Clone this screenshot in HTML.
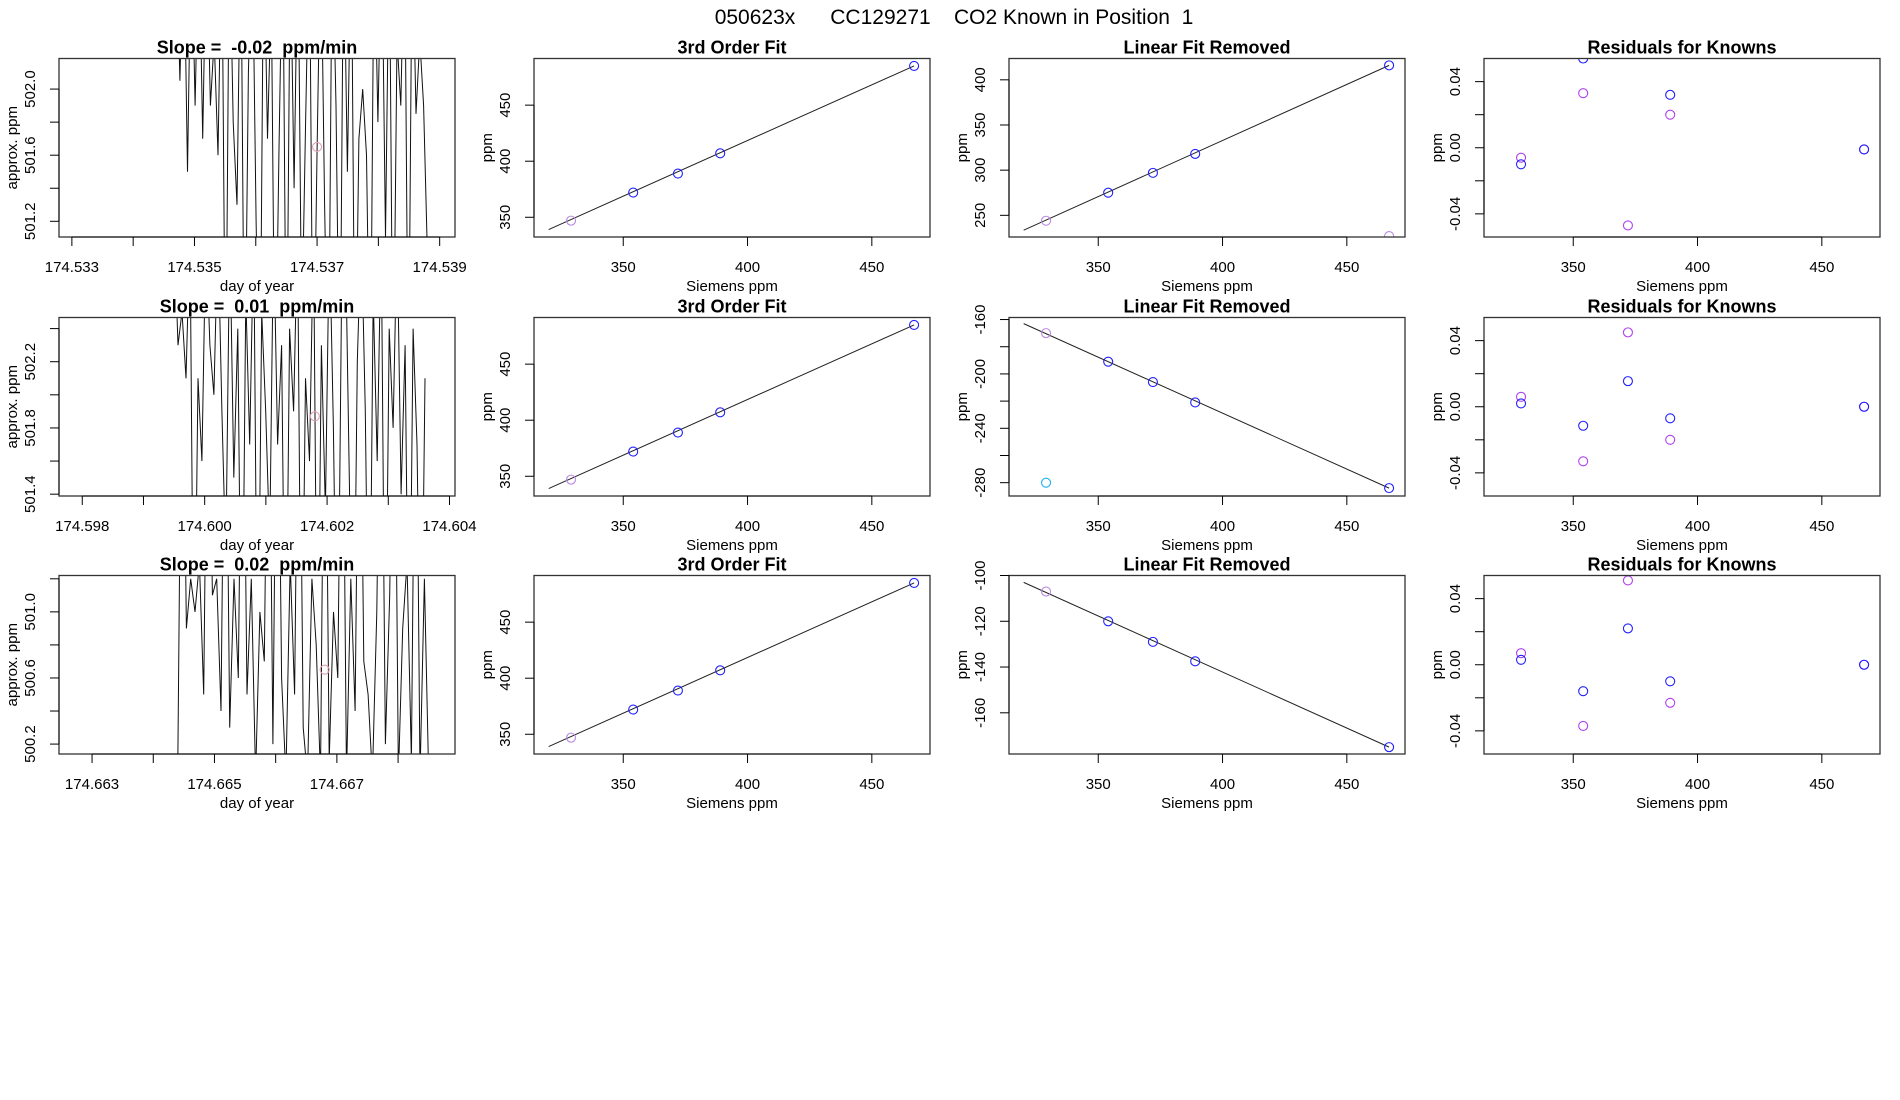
<!DOCTYPE html>
<html><head><meta charset="utf-8"><style>
html,body{margin:0;padding:0;background:#fff;}
svg{display:block;font-family:"Liberation Sans",sans-serif;}
text{white-space:pre;}
</style></head><body>
<svg id="chart" width="1900" height="1100" viewBox="0 0 1900 1100" xmlns="http://www.w3.org/2000/svg">
<rect width="1900" height="1100" fill="#fff"/>
<text x="954" y="24" font-size="21" text-anchor="middle" xml:space="preserve">050623x      CC129271    CO2 Known in Position  1</text>
</svg>
<script>
// ---- data ----
const siemensX = [329, 354, 372, 389, 467];
const fit1Y = [347, 372, 389, 407, 485];
const fit2Y = [347, 372, 389, 407, 485];
const fit3Y = [347, 372, 389, 407, 485];
const fitLineX = [320, 467];
const fitLineY = [339, 485];
const lin1Y = [244, 275, 297, 318, 416];
const lin1Extra = [467, 227];
const lin1Line = [233.5, 416];
const lin2Y = [-170, -191, -206, -221, -284];
const lin2Extra = [329, -280];
const lin2Line = [-163, -284];
const lin3Y = [-107, -120, -129, -137.5, -175];
const lin3Line = [-103, -175];
const res1Blue = [-0.010, 0.054, null, 0.032, -0.001];
const res1Purple = [-0.006, 0.033, -0.047, 0.020, -0.001];
const res2Blue = [0.002, -0.0115, 0.0155, -0.007, 0.0];
const res2Purple = [0.006, -0.033, 0.045, -0.020, 0.0];
const res3Blue = [0.003, -0.016, 0.022, -0.010, 0.0];
const res3Purple = [0.007, -0.037, 0.051, -0.023, 0.0];
const ts1Range = [174.5347, 174.5388];
const ts1 = [503,502.05,503,501.5,503,501.9,503,501.7,503,501.9,502.3,501.6,503,500,503,501.8,501.3,503,500,502.1,503,501.2,500,503,501.7,502.6,500,501.6,503,500,502.9,501.4,503,500.5,501.8,503,500,501.6,503,501.3,500,503,501.9,500,503,501.5,503,500,501.7,502,501.6,500,503,501.8,503,501.1,503,500,502.3,501.9,503,500,503,501.85,502.3,501.9,501.0];
const ts2Range = [174.5995, 174.6036];
const ts2 = [503,502.3,502.5,502.1,503,500,502.1,501.6,503,502.3,502.0,503,501.9,501.0,503,501.5,502.4,500,502.6,501.7,503,500,502.5,501.9,501.1,503,501.7,502.3,500,502.4,501.9,503,500,502.1,501.6,503,500,502.3,501.3,503,501.8,500,502.5,503,501.5,500,502.2,503,501.9,500,502.6,501.6,503,500,502.4,501.8,503,501.4,502.3,500,502.4,501.7,500,502.1];
const ts3Range = [174.6644, 174.6685];
const ts3 = [500,503,500.9,501.2,501.0,501.3,500.5,503,501.1,501.2,500.4,503,500.3,501.2,500.6,503,500.5,501.2,500,501.0,500.7,503,500.2,503,500.6,500,501.3,500.5,503,500.3,500,501.2,500.8,500,503,500.1,501.0,500.6,503,500,501.2,500.4,503,500.7,500.5,500,501.0,503,500.2,501.1,503,500,500.9,501.3,500.1,503,500,501.2,500.0];
const tsTicks1 = [174.533,174.534,174.535,174.536,174.537,174.538,174.539];
const tsLabels1 = ["174.533","","174.535","","174.537","","174.539"];
const tsTicks2 = [174.598,174.599,174.600,174.601,174.602,174.603,174.604];
const tsLabels2 = ["174.598","","174.600","","174.602","","174.604"];
const tsTicks3 = [174.663,174.664,174.665,174.666,174.667,174.668];
const tsLabels3 = ["174.663","","174.665","","174.667",""];
const tsYTicks1 = [501.2,501.4,501.6,501.8,502.0];
const tsYLabels1 = ["501.2","","501.6","","502.0"];
const tsYTicks2 = [501.4,501.6,501.8,502.0,502.2,502.4];
const tsYLabels2 = ["501.4","","501.8","","502.2",""];
const tsYTicks3 = [500.2,500.4,500.6,500.8,501.0,501.2];
const tsYLabels3 = ["500.2","","500.6","","501.0",""];
const siemTicks = [350,400,450];
const slopeTitles = ["Slope =  -0.02  ppm/min","Slope =  0.01  ppm/min","Slope =  0.02  ppm/min"];

const NS="http://www.w3.org/2000/svg";
const svg=document.getElementById('chart');
function mk(tag,attrs,parent){const e=document.createElementNS(NS,tag);for(const k in attrs)e.setAttribute(k,attrs[k]);(parent||svg).appendChild(e);return e;}

const colX=[59,534,1009,1484], W=396;
const rowY=[58.5,317.5,575.5], H=178.5;

function makePanel(c,r,xdom,ydom,name){
  const x0=colX[c],y0=rowY[r];
  const g=mk('g',{});
  
  
  const sx=v=>x0+(v-xdom[0])/(xdom[1]-xdom[0])*W;
  const sy=v=>y0+H-(v-ydom[0])/(ydom[1]-ydom[0])*H;
  const id='clip'+c+r;
  const cp=mk('clipPath',{id:id},g);mk('rect',{x:x0,y:y0,width:W,height:H},cp);
  const plot=mk('g',{'clip-path':'url(#'+id+')'},g);
  return {g,plot,sx,sy,x0,y0};
}
function frame(p){const f=mk('rect',{x:p.x0,y:p.y0,width:W,height:H,fill:'none',stroke:'#333','stroke-width':1.3},p.g);}
function xAxis(p,ticks,labels,title){
  const yb=p.y0+H;
  const a=mk('line',{x1:p.sx(ticks[0]),x2:p.sx(ticks[ticks.length-1]),y1:yb,y2:yb,stroke:'#000'},p.g);
  
  ticks.forEach((t,i)=>{const x=p.sx(t);mk('line',{x1:x,x2:x,y1:yb,y2:yb+9,stroke:'#000'},p.g);
    if(labels[i]){const tx=mk('text',{x:x,y:yb+35,'font-size':15,'text-anchor':'middle'},p.g);tx.textContent=labels[i];
      }});
  const tt=mk('text',{x:p.x0+W/2,y:yb+54,'font-size':15,'text-anchor':'middle'},p.g);tt.textContent=title;
  
}
function yAxis(p,ticks,labels,title){
  const xl=p.x0;
  const a=mk('line',{x1:xl,x2:xl,y1:p.sy(ticks[0]),y2:p.sy(ticks[ticks.length-1]),stroke:'#000'},p.g);
  
  ticks.forEach((t,i)=>{const y=p.sy(t);mk('line',{x1:xl-9,x2:xl,y1:y,y2:y,stroke:'#000'},p.g);
    if(labels[i]){const tx=mk('text',{x:0,y:0,'font-size':15,'text-anchor':'middle',transform:`translate(${xl-24},${y}) rotate(-90)`},p.g);tx.textContent=labels[i];
      }});
  const tt=mk('text',{x:0,y:0,'font-size':15,'text-anchor':'middle',transform:`translate(${xl-42},${p.y0+H/2}) rotate(-90)`},p.g);tt.textContent=title;
  
}
function ptitle(p,t){const tx=mk('text',{x:p.x0+W/2,y:p.y0-5,'font-size':18,'font-weight':'bold','text-anchor':'middle'},p.g);tx.textContent=t;
  }
function pt(p,x,y,col){const c=mk('circle',{cx:p.sx(x),cy:p.sy(y),r:4.5,fill:'none',stroke:col,'stroke-width':1.1},p.plot);
  }
function seg(p,xs,ys){const l=mk('line',{x1:p.sx(xs[0]),y1:p.sy(ys[0]),x2:p.sx(xs[1]),y2:p.sy(ys[1]),stroke:'#222','stroke-width':1},p.plot);
  }

const BLUE='#2020ff',PUR='#b040f0',LPUR='#b88ae0',CYAN='#20b0f0';
const sDom=[314.1,473.4];

// time series
const tsSets=[[ts1,ts1Range,[174.53279,174.53925],[501.105,502.185],tsTicks1,tsLabels1,tsYTicks1,tsYLabels1,[174.537,501.65]],
 [ts2,ts2Range,[174.59762,174.60409],[501.389,502.467],tsTicks2,tsLabels2,tsYTicks2,tsYLabels2,[174.6018,501.87]],
 [ts3,ts3Range,[174.66246,174.66893],[500.14,501.22],tsTicks3,tsLabels3,tsYTicks3,tsYLabels3,[174.6668,500.65]]];
tsSets.forEach((s,r)=>{
  const p=makePanel(0,r,s[2],s[3],'time-series-panel-'+(r+1));
  const vals=s[0],rg=s[1];
  const d=vals.map((v,i)=>(i?'L':'M')+p.sx(rg[0]+(rg[1]-rg[0])*i/(vals.length-1)).toFixed(1)+','+p.sy(v).toFixed(1)).join('');
  const path=mk('path',{d:d,fill:'none',stroke:'#111','stroke-width':1},p.plot);
  
  pt(p,s[8][0],s[8][1],'#e0a0b0');
  frame(p);xAxis(p,s[4],s[5],'day of year');yAxis(p,s[6],s[7],'approx. ppm');ptitle(p,slopeTitles[r]);
});
// 3rd order fit
[fit1Y,fit2Y,fit3Y].forEach((ys,r)=>{
  const p=makePanel(1,r,sDom,[332.4,491.6],'third-order-fit-panel-'+(r+1));
  seg(p,fitLineX,fitLineY);
  siemensX.forEach((x,i)=>pt(p,x,ys[i],i===0?LPUR:BLUE));
  frame(p);xAxis(p,siemTicks,['350','400','450'],'Siemens ppm');yAxis(p,[350,400,450],['350','400','450'],'ppm');ptitle(p,'3rd Order Fit');
});
// linear fit removed
const linSets=[[lin1Y,[226,423.6],lin1Line,[250,300,350,400],['250','300','350','400'],lin1Extra,LPUR],
 [lin2Y,[-289.8,-158.5],lin2Line,[-280,-260,-240,-220,-200,-180,-160],['-280','','-240','','-200','','-160'],lin2Extra,CYAN],
 [lin3Y,[-178,-100],lin3Line,[-160,-140,-120,-100],['-160','-140','-120','-100'],null,null]];
linSets.forEach((s,r)=>{
  const p=makePanel(2,r,sDom,s[1],'linear-fit-removed-panel-'+(r+1));
  seg(p,fitLineX,s[2]);
  siemensX.forEach((x,i)=>pt(p,x,s[0][i],i===0?LPUR:BLUE));
  if(s[5])pt(p,s[5][0],s[5][1],s[6]);
  frame(p);xAxis(p,siemTicks,['350','400','450'],'Siemens ppm');yAxis(p,s[3],s[4],'ppm');ptitle(p,'Linear Fit Removed');
});
// residuals
[[res1Blue,res1Purple],[res2Blue,res2Purple],[res3Blue,res3Purple]].forEach((s,r)=>{
  const p=makePanel(3,r,sDom,[-0.054,0.054],'residuals-panel-'+(r+1));
  siemensX.forEach((x,i)=>{if(s[1][i]!==null)pt(p,x,s[1][i],PUR);if(s[0][i]!==null)pt(p,x,s[0][i],BLUE);});
  frame(p);xAxis(p,siemTicks,['350','400','450'],'Siemens ppm');
  yAxis(p,[-0.04,-0.02,0,0.02,0.04],['-0.04','','0.00','','0.04'],'ppm');ptitle(p,'Residuals for Knowns');
});
</script>
</body></html>
